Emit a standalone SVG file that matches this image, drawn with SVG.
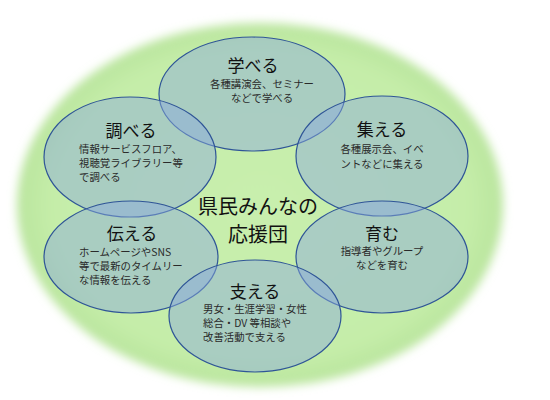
<svg xmlns="http://www.w3.org/2000/svg" width="550" height="400" viewBox="0 0 550 400">
<defs>
<filter id="soft" x="-10%" y="-10%" width="120%" height="120%">
<feGaussianBlur stdDeviation="5"/>
</filter>
<radialGradient id="bg" cx="50%" cy="50%" r="50%">
<stop offset="0" stop-color="#c8efad"/>
<stop offset="0.85" stop-color="#c5eda9"/>
<stop offset="1" stop-color="#bae59e"/>
</radialGradient>
</defs>
<style>
.c{fill:#8aa9dc;fill-opacity:0.48;stroke:#2f5597;stroke-width:1.2}
.t{font-family:"Noto Sans CJK JP","Noto Sans",sans-serif;font-size:17px;fill:#111;text-anchor:middle}
.b{font-family:"Noto Sans CJK JP","Noto Sans",sans-serif;font-size:10.4px;fill:#2a2a2a}
.m{text-anchor:middle}
.h{font-family:"Noto Sans CJK JP","Noto Sans",sans-serif;font-size:20px;fill:#111;text-anchor:middle}
</style>
<rect width="550" height="400" fill="#ffffff"/>
<g id="background">
<ellipse cx="260" cy="205" rx="243" ry="182" fill="url(#bg)" filter="url(#soft)"/>
</g>
<g id="center">
<text class="h" x="258" y="214">県民みんなの</text>
<text class="h" x="258" y="242">応援団</text>
</g>
<g id="manaberu">
<ellipse class="c" cx="252" cy="94" rx="93" ry="57"/>
<text class="t" x="253" y="72">学べる</text>
<text class="b m" x="262" y="88">各種講演会、セミナー</text>
<text class="b m" x="262" y="102">などで学べる</text>
</g>
<g id="shiraberu">
<ellipse class="c" cx="130" cy="157" rx="86" ry="60"/>
<text class="t" x="131" y="137">調べる</text>
<text class="b" x="79" y="153">情報サービスフロア、</text>
<text class="b" x="79" y="167">視聴覚ライブラリー等</text>
<text class="b" x="79" y="181">で調べる</text>
</g>
<g id="tsudoeru">
<ellipse class="c" cx="382" cy="156" rx="86" ry="60"/>
<text class="t" x="382" y="136">集える</text>
<text class="b m" x="382" y="153">各種展示会、イベ</text>
<text class="b m" x="382" y="168">ントなどに集える</text>
</g>
<g id="tsutaeru">
<ellipse class="c" cx="131" cy="257" rx="87" ry="56"/>
<text class="t" x="132" y="240">伝える</text>
<text class="b" x="79" y="256">ホームページやSNS</text>
<text class="b" x="79" y="270">等で最新のタイムリー</text>
<text class="b" x="79" y="284">な情報を伝える</text>
</g>
<g id="hagukumu">
<ellipse class="c" cx="382" cy="257" rx="86" ry="56"/>
<text class="t" x="382" y="240">育む</text>
<text class="b m" x="382" y="255">指導者やグループ</text>
<text class="b m" x="382" y="269">などを育む</text>
</g>
<g id="sasaeru">
<ellipse class="c" cx="255" cy="316" rx="86" ry="56"/>
<text class="t" x="255" y="298">支える</text>
<text class="b" x="203" y="313">男女・生涯学習・女性</text>
<text class="b" x="203" y="327">総合・DV 等相談や</text>
<text class="b" x="203" y="341">改善活動で支える</text>
</g>
</svg>
